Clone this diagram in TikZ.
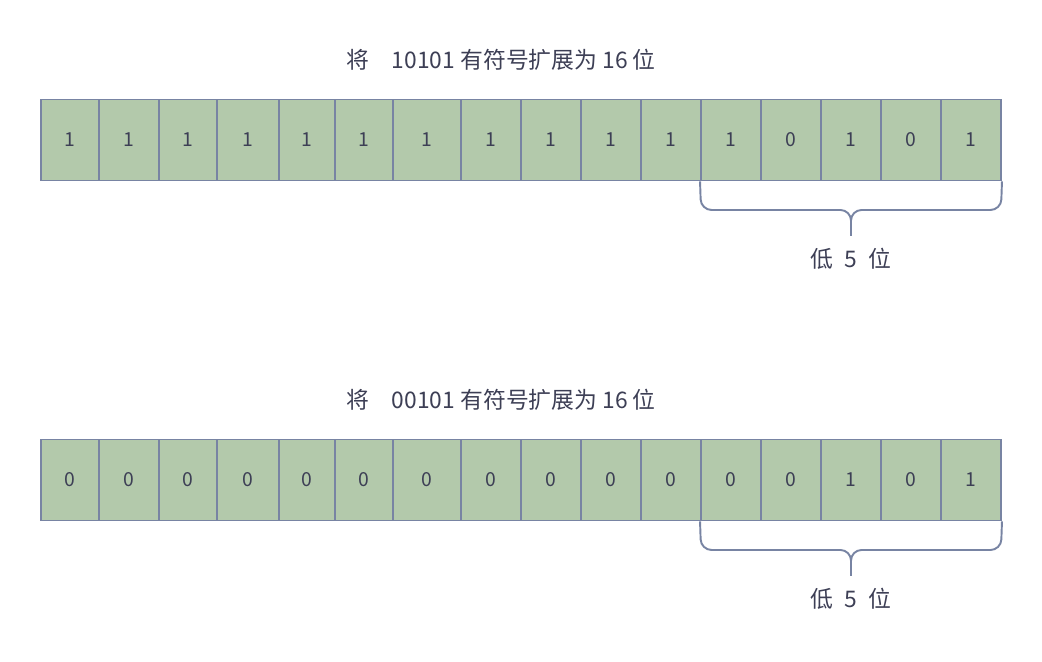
\documentclass[tikz,border=0pt]{standalone}
\usepackage{fontspec}
\setmainfont{Noto Sans CJK SC}
\usepackage{tikz}
\usetikzlibrary{positioning}
\definecolor{cellgreen}{HTML}{B3C9AB}
\definecolor{edgeblue}{HTML}{7884A3}
\definecolor{inkgray}{HTML}{3D3F55}

\begin{document}
\begin{tikzpicture}[x=0.02cm, y=0.02cm, line width=1.1pt]
\tikzstyle{cell} = [rectangle, draw=edgeblue, fill=cellgreen, inner sep=0cm, minimum height=1.62cm, text=inkgray, font=\fontsize{11}{13}\selectfont]
\tikzstyle{caption} = [text=inkgray, font=\fontsize{13}{15}\selectfont]
\tikzstyle{brace} = [draw=edgeblue, rounded corners=6pt]
\useasboundingbox (0,0) rectangle (1042,662);
% upper row
\foreach \l/\r/\v [count=\i] in {41/99/1, 99/159/1, 159/217/1, 217/279/1, 279/335/1, 335/393/1, 393/461/1, 461/521/1, 521/581/1, 581/641/1, 641/701/1, 701/761/1, 761/821/0, 821/881/1, 881/941/0, 941/1001/1}
	\node[cell, minimum width={(\r-\l)*0.02cm}] (t\i) at ({(\l+\r)/2},522) {\v};
\node[caption] (title1) at (501,602) {将\quad 10101 有符号扩展为 16 位};
\coordinate (tip1) at (851,426);
\draw[brace] (t12.south west) -- (701,452) -- (851,452) -- (tip1);
\draw[brace] (tip1) -- (851,452) -- (1001,452) -- (t16.south east);
\node[caption, below=0.1cm of tip1] (low1) {低\enspace 5\enspace 位};
% lower row
\foreach \l/\r/\v [count=\i] in {41/99/0, 99/159/0, 159/217/0, 217/279/0, 279/335/0, 335/393/0, 393/461/0, 461/521/0, 521/581/0, 581/641/0, 641/701/0, 701/761/0, 761/821/0, 821/881/1, 881/941/0, 941/1001/1}
	\node[cell, minimum width={(\r-\l)*0.02cm}] (b\i) at ({(\l+\r)/2},182) {\v};
\node[caption] (title2) at (501,262) {将\quad 00101 有符号扩展为 16 位};
\coordinate (tip2) at (851,86);
\draw[brace] (b12.south west) -- (701,112) -- (851,112) -- (tip2);
\draw[brace] (tip2) -- (851,112) -- (1001,112) -- (b16.south east);
\node[caption, below=0.1cm of tip2] (low2) {低\enspace 5\enspace 位};
\end{tikzpicture}
\end{document}
